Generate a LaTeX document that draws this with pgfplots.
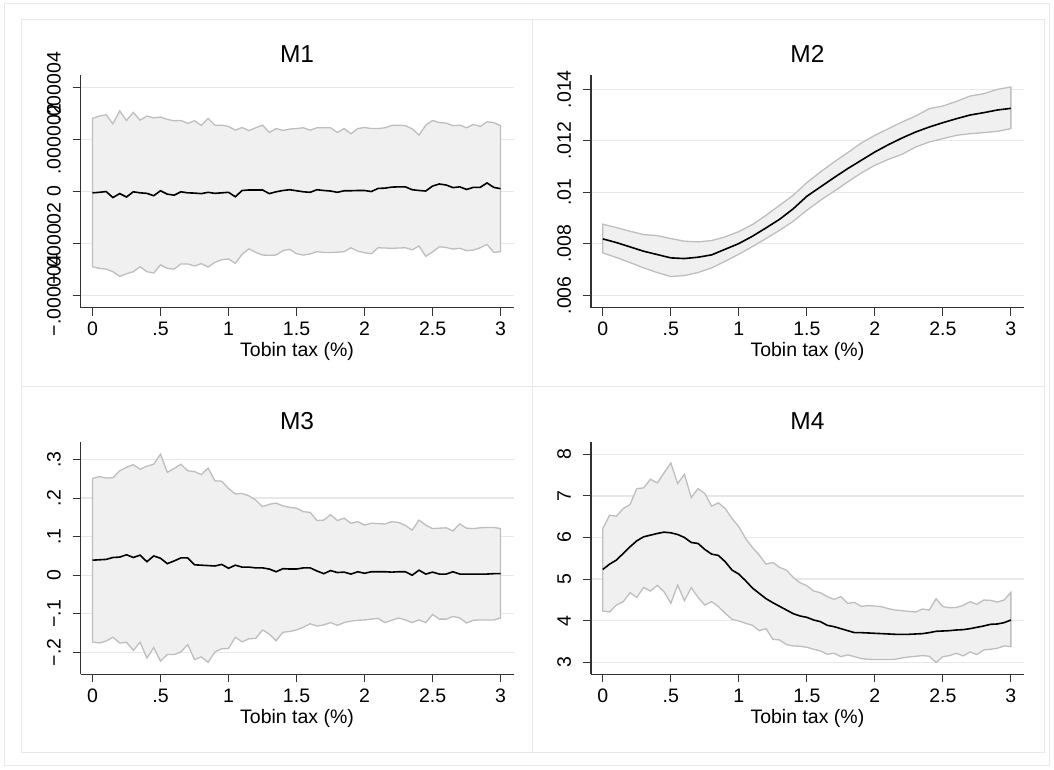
\documentclass[border=0pt]{standalone}
\usepackage{fontspec}
\setmainfont{Liberation Sans}
\usepackage{pgfplots}
\pgfplotsset{compat=1.18}
\usepackage{pgfplotstable}
\usepgfplotslibrary{fillbetween}

\definecolor{gridc}{RGB}{232,232,232}
\definecolor{bandfill}{RGB}{240,240,240}
\definecolor{bandline}{RGB}{190,190,190}
\definecolor{axisc}{RGB}{50,50,50}
\definecolor{framec}{RGB}{232,232,232}

\pgfplotstableread{
x lo mean hi
0 -2.90e-6 -0.06e-6 2.80e-6
0.05 -2.96e-6 -0.04e-6 2.89e-6
0.1 -2.99e-6 -0.01e-6 2.94e-6
0.15 -3.09e-6 -0.24e-6 2.59e-6
0.2 -3.27e-6 -0.09e-6 3.09e-6
0.25 -3.17e-6 -0.22e-6 2.72e-6
0.3 -3.09e-6 -0.02e-6 3.03e-6
0.35 -2.90e-6 -0.06e-6 2.73e-6
0.4 -3.09e-6 -0.08e-6 2.89e-6
0.45 -3.14e-6 -0.17e-6 2.82e-6
0.5 -2.83e-6 0.02e-6 2.85e-6
0.55 -2.96e-6 -0.11e-6 2.76e-6
0.6 -2.99e-6 -0.15e-6 2.71e-6
0.65 -2.79e-6 -0.02e-6 2.72e-6
0.7 -2.79e-6 -0.06e-6 2.61e-6
0.75 -2.87e-6 -0.07e-6 2.71e-6
0.8 -2.78e-6 -0.09e-6 2.53e-6
0.85 -2.91e-6 -0.04e-6 2.80e-6
0.9 -2.73e-6 -0.08e-6 2.54e-6
0.95 -2.63e-6 -0.06e-6 2.54e-6
1.0 -2.60e-6 -0.04e-6 2.49e-6
1.05 -2.77e-6 -0.21e-6 2.35e-6
1.1 -2.42e-6 0.03e-6 2.45e-6
1.15 -2.21e-6 0.05e-6 2.33e-6
1.2 -2.35e-6 0.05e-6 2.44e-6
1.25 -2.45e-6 0.05e-6 2.54e-6
1.3 -2.46e-6 -0.09e-6 2.26e-6
1.35 -2.45e-6 -0.02e-6 2.41e-6
1.4 -2.28e-6 0.03e-6 2.34e-6
1.45 -2.23e-6 0.06e-6 2.39e-6
1.5 -2.40e-6 0.02e-6 2.41e-6
1.55 -2.45e-6 -0.02e-6 2.44e-6
1.6 -2.41e-6 -0.04e-6 2.35e-6
1.65 -2.32e-6 0.06e-6 2.44e-6
1.7 -2.35e-6 0.03e-6 2.44e-6
1.75 -2.35e-6 0.01e-6 2.44e-6
1.8 -2.34e-6 -0.04e-6 2.26e-6
1.85 -2.32e-6 0.02e-6 2.41e-6
1.9 -2.17e-6 0.02e-6 2.21e-6
1.95 -2.30e-6 0.03e-6 2.41e-6
2.0 -2.36e-6 0.03e-6 2.45e-6
2.05 -2.40e-6 -0.01e-6 2.41e-6
2.1 -2.17e-6 0.11e-6 2.41e-6
2.15 -2.18e-6 0.12e-6 2.44e-6
2.2 -2.19e-6 0.16e-6 2.53e-6
2.25 -2.18e-6 0.17e-6 2.54e-6
2.3 -2.17e-6 0.17e-6 2.52e-6
2.35 -2.25e-6 0.06e-6 2.40e-6
2.4 -2.10e-6 0.03e-6 2.16e-6
2.45 -2.50e-6 0.01e-6 2.54e-6
2.5 -2.33e-6 0.20e-6 2.72e-6
2.55 -2.13e-6 0.28e-6 2.64e-6
2.6 -2.16e-6 0.24e-6 2.62e-6
2.65 -2.22e-6 0.14e-6 2.52e-6
2.7 -2.19e-6 0.17e-6 2.54e-6
2.75 -2.28e-6 0.07e-6 2.44e-6
2.8 -2.26e-6 0.15e-6 2.57e-6
2.85 -2.17e-6 0.15e-6 2.49e-6
2.9 -2.04e-6 0.32e-6 2.67e-6
2.95 -2.35e-6 0.15e-6 2.64e-6
3.0 -2.32e-6 0.10e-6 2.52e-6
}\mone

\pgfplotstableread{
x lo mean hi
0 .007649 .008191 .008760
0.1 .007468 .008049 .008630
0.2 .007274 .007881 .008488
0.3 .007067 .007713 .008359
0.4 .006886 .007584 .008320
0.5 .006731 .007455 .008204
0.6 .006770 .007429 .008101
0.7 .006886 .007481 .008075
0.8 .007067 .007571 .008127
0.9 .007326 .007791 .008269
1.0 .007597 .008010 .008475
1.1 .007894 .008295 .008747
1.2 .008204 .008618 .009109
1.3 .008527 .008953 .009496
1.4 .008876 .009360 .009884
1.5 .009302 .009845 .010375
1.6 .009690 .010207 .010788
1.7 .010039 .010568 .011176
1.8 .010401 .010917 .011537
1.9 .010749 .011240 .011912
2.0 .011047 .011563 .012209
2.1 .011279 .011848 .012468
2.2 .011473 .012106 .012726
2.3 .011757 .012339 .012959
2.4 .011951 .012532 .013243
2.5 .012080 .012700 .013346
2.6 .012209 .012855 .013527
2.7 .012274 .012997 .013734
2.8 .012313 .013088 .013824
2.9 .012364 .013191 .013992
3.0 .012468 .013256 .014083
}\mtwo

\pgfplotstableread{
x lo mean hi
0 -.173 .039 .251
0.05 -.176 .040 .256
0.1 -.171 .041 .252
0.15 -.161 .046 .253
0.2 -.176 .047 .271
0.25 -.174 .053 .280
0.3 -.195 .046 .287
0.35 -.174 .052 .275
0.4 -.215 .035 .283
0.45 -.188 .050 .288
0.5 -.223 .044 .314
0.55 -.206 .030 .267
0.6 -.206 .037 .277
0.65 -.199 .045 .288
0.7 -.180 .045 .271
0.75 -.219 .027 .269
0.8 -.212 .026 .261
0.85 -.226 .025 .278
0.9 -.199 .024 .245
0.95 -.191 .028 .244
1.0 -.190 .018 .225
1.05 -.161 .026 .211
1.1 -.173 .021 .212
1.15 -.165 .021 .206
1.2 -.164 .019 .195
1.25 -.142 .019 .178
1.3 -.153 .016 .184
1.35 -.170 .009 .187
1.4 -.148 .017 .180
1.45 -.146 .016 .176
1.5 -.142 .016 .174
1.55 -.135 .019 .165
1.6 -.126 .019 .163
1.65 -.132 .011 .142
1.7 -.129 .004 .143
1.75 -.123 .012 .157
1.8 -.130 .007 .142
1.85 -.123 .008 .148
1.9 -.119 .003 .135
1.95 -.117 .009 .139
2.0 -.116 .005 .130
2.05 -.114 .009 .135
2.1 -.112 .009 .134
2.15 -.123 .009 .133
2.2 -.117 .008 .139
2.25 -.111 .009 .137
2.3 -.116 .009 .129
2.35 -.123 .000 .117
2.4 -.116 .013 .143
2.45 -.123 .003 .130
2.5 -.102 .008 .121
2.55 -.114 .003 .122
2.6 -.114 .003 .123
2.65 -.107 .009 .115
2.7 -.111 .003 .133
2.75 -.124 .003 .122
2.8 -.117 .003 .121
2.85 -.116 .003 .123
2.9 -.116 .003 .124
2.95 -.116 .004 .124
3.0 -.111 .004 .121
}\mthree

\pgfplotstableread{
x lo mean hi
0 4.232 5.232 6.216
0.05 4.208 5.36 6.536
0.1 4.376 5.456 6.512
0.15 4.456 5.616 6.696
0.2 4.672 5.776 6.792
0.25 4.56 5.92 7.176
0.3 4.80 6.016 7.192
0.35 4.712 6.056 7.40
0.4 4.848 6.096 7.312
0.45 4.696 6.128 7.552
0.5 4.416 6.112 7.792
0.55 4.856 6.072 7.296
0.6 4.48 6.0 7.52
0.65 4.792 5.88 6.96
0.7 4.56 5.856 7.176
0.75 4.376 5.712 7.056
0.8 4.456 5.60 6.752
0.85 4.336 5.568 6.832
0.9 4.176 5.416 6.696
0.95 4.032 5.216 6.456
1.0 3.992 5.12 6.256
1.05 3.936 4.96 5.976
1.1 3.888 4.784 5.76
1.15 3.76 4.656 5.576
1.2 3.808 4.528 5.36
1.25 3.552 4.432 5.40
1.3 3.536 4.344 5.28
1.35 3.424 4.256 5.216
1.4 3.392 4.168 5.04
1.45 3.384 4.112 4.912
1.5 3.36 4.08 4.84
1.55 3.312 4.016 4.712
1.6 3.272 3.976 4.672
1.65 3.192 3.888 4.576
1.7 3.216 3.856 4.512
1.75 3.136 3.808 4.576
1.8 3.176 3.76 4.416
1.85 3.136 3.712 4.44
1.9 3.088 3.712 4.344
1.95 3.072 3.704 4.36
2.0 3.064 3.696 4.352
2.05 3.064 3.688 4.336
2.1 3.064 3.68 4.288
2.15 3.072 3.672 4.256
2.2 3.104 3.672 4.24
2.25 3.128 3.672 4.224
2.3 3.144 3.68 4.208
2.35 3.16 3.688 4.28
2.4 3.144 3.712 4.256
2.45 2.992 3.744 4.528
2.5 3.136 3.752 4.336
2.55 3.16 3.76 4.312
2.6 3.216 3.776 4.32
2.65 3.152 3.784 4.368
2.7 3.248 3.808 4.456
2.75 3.184 3.84 4.392
2.8 3.296 3.872 4.496
2.85 3.312 3.912 4.488
2.9 3.336 3.92 4.448
2.95 3.392 3.952 4.496
3.0 3.376 4.016 4.68
}\mfour

\pgfplotsset{
  panel/.style={
    scale only axis, width=433bp, height=232.5bp,
    xmin=-0.087, xmax=3.095,
    axis x line*=bottom, axis y line*=left,
    axis line style={color=axisc, line width=1.1bp},
    tick style={color=axisc, line width=1.1bp},
    tick align=outside, major tick length=8bp,
    scaled y ticks=false, scaled x ticks=false,
    xtick={0,0.5,1,1.5,2,2.5,3}, xticklabels={0,.5,1,1.5,2,2.5,3},
    ymajorgrids, grid style={color=gridc, line width=1.3bp},
    xlabel={Tobin tax (\%)},
    ticklabel style={font=\fontsize{19.5bp}{22bp}\selectfont, text=black},
    xticklabel style={anchor=base, yshift=-20bp},
    yticklabel style={xshift=-12bp, rotate=90, anchor=base},
    xlabel style={at={(0.5,0)}, anchor=base, yshift=-49bp, font=\fontsize{19.5bp}{22bp}\selectfont},
    title style={at={(0.5,1)}, anchor=center, yshift=15bp, font=\fontsize{24.5bp}{28bp}\selectfont},
  },
  band/.style={fill=bandfill, draw=bandline, line width=1.3bp},
  meanline/.style={black, line width=1.6bp},
}

\begin{document}
\begin{tikzpicture}
\draw[white] (0,0) rectangle (1054bp,769bp);
\draw[framec, line width=1bp] (4bp,3bp) rectangle (1050bp,766bp);
\draw[framec, line width=1bp] (21.6bp,16.3bp) rectangle (1045bp,749.6bp);
\draw[framec, line width=1bp] (532bp,16.3bp) -- (532bp,749.6bp);
\draw[framec, line width=1bp] (21.6bp,382.5bp) -- (1045bp,382.5bp);

% M1 (values plotted in units of 1e-6 by a scale filter)
\begin{axis}[panel, at={(80.5bp,461.5bp)}, anchor=south west,
  title={M1}, ymin=-4.468, ymax=4.461,
  y filter/.expression={y*1000000},
  ytick={-4,-2,0,2,4},
  yticklabels={−.000004,−.000002,0,.000002,.000004}]
\addplot[draw=none, name path=hi] table[x=x,y=hi]{\mone};
\addplot[draw=none, name path=lo] table[x=x,y=lo]{\mone};
\addplot[band] fill between[of=hi and lo];
\addplot[meanline] table[x=x,y=mean]{\mone};
\end{axis}

% M2
\begin{axis}[panel, at={(591bp,461.5bp)}, anchor=south west,
  title={M2}, ymin=0.005527, ymax=0.014543,
  ytick={0.006,0.008,0.01,0.012,0.014},
  yticklabels={.006,.008,.01,.012,.014}]
\addplot[draw=none, name path=hi] table[x=x,y=hi]{\mtwo};
\addplot[draw=none, name path=lo] table[x=x,y=lo]{\mtwo};
\addplot[band] fill between[of=hi and lo];
\addplot[meanline] table[x=x,y=mean]{\mtwo};
\end{axis}

% M3
\begin{axis}[panel, at={(80.5bp,94.5bp)}, anchor=south west,
  title={M3}, ymin=-0.2575, ymax=0.3456,
  ytick={-0.2,-0.1,0,0.1,0.2,0.3},
  yticklabels={−.2,−.1,0,.1,.2,.3}]
\addplot[draw=none, name path=hi] table[x=x,y=hi]{\mthree};
\addplot[draw=none, name path=lo] table[x=x,y=lo]{\mthree};
\addplot[band] fill between[of=hi and lo];
\addplot[meanline] table[x=x,y=mean]{\mthree};
\end{axis}

% M4
\begin{axis}[panel, at={(591bp,94.5bp)}, anchor=south west,
  title={M4}, ymin=2.707, ymax=8.295,
  ytick={3,4,5,6,7,8},
  yticklabels={3,4,5,6,7,8}]
\addplot[draw=none, name path=hi] table[x=x,y=hi]{\mfour};
\addplot[draw=none, name path=lo] table[x=x,y=lo]{\mfour};
\addplot[band] fill between[of=hi and lo];
\addplot[meanline] table[x=x,y=mean]{\mfour};
\end{axis}
\end{tikzpicture}
\end{document}
